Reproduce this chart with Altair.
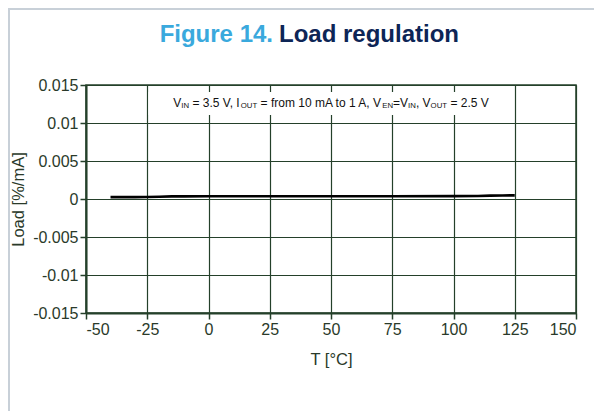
import altair as alt
import pandas as pd

# ---- data ----
temps = [-40, -30, -25, -20, -15, -10, 0, 25, 50, 75, 100, 110, 115, 120, 125]
load = [0.00025, 0.00025, 0.00026, 0.0003, 0.00034, 0.00035, 0.00036, 0.00037,
        0.00037, 0.00037, 0.00038, 0.0004, 0.00044, 0.00047, 0.00048]

x_ticks = [-50, -25, 0, 25, 50, 75, 100, 125, 150]
y_ticks = [-0.015, -0.01, -0.005, 0, 0.005, 0.01, 0.015]

title_a = "Figure 14."
title_b = "Load regulation"
x_title = "T [°C]"
y_title = "Load [%/mA]"

# annotation segments: (text, is_subscript)
note_segments = [
    ("V", False), ("IN", True), (" = 3.5 V, I", False), ("OUT", True),
    (" = from 10 mA to 1 A, V", False), ("EN", True), ("=V", False), ("IN", True),
    (", V", False), ("OUT", True), (" = 2.5 V", False),
]
note_x_center = 50
note_y = 0.01265
box_x = [-24.5, 124.5]
box_y = [0.01105, 0.01408]

# ---- styling ----
GRID = "#24402a"
LABEL = "#2a3a2a"
FONT = "Liberation Sans"
MAIN_FS = 12
SUB_FS = 7.8

# Arial advance widths (per 1000 em)
W = {" ": 278, "V": 667, "I": 278, "N": 722, "O": 778, "U": 722, "T": 611,
     "E": 667, "A": 667, "=": 584, ".": 278, ",": 278, "f": 278, "r": 333,
     "o": 556, "m": 833, "t": 278}
def width(s, fs):
    return sum(W.get(c, 556) for c in s) * fs / 1000.0

df = pd.DataFrame({"T": temps, "Load": load})

x_scale = alt.Scale(domain=[-50, 150], nice=False)
y_scale = alt.Scale(domain=[-0.015, 0.015], nice=False, zero=False)
x_axis = alt.Axis(values=x_ticks, title=x_title, labelExpr="toString(datum.value)",
                  grid=True, labelOverlap=False)
y_axis = alt.Axis(values=y_ticks, title=y_title, labelExpr="toString(datum.value)",
                  grid=True, labelOverlap=False)

line = alt.Chart(df).mark_line(color="black", strokeWidth=2.6).encode(
    x=alt.X("T:Q", scale=x_scale, axis=x_axis),
    y=alt.Y("Load:Q", scale=y_scale, axis=y_axis))

box = alt.Chart(pd.DataFrame({"x1": [box_x[0]], "x2": [box_x[1]],
                              "y1": [box_y[0]], "y2": [box_y[1]]})).mark_rect(
    color="white").encode(x=alt.X("x1:Q", scale=x_scale, axis=x_axis), x2="x2:Q",
                          y=alt.Y("y1:Q", scale=y_scale, axis=y_axis), y2="y2:Q")

total = sum(width(t, SUB_FS if s else MAIN_FS) for t, s in note_segments)
offset = -total / 2.0
note_layers = []
for txt, sub in note_segments:
    fs = SUB_FS if sub else MAIN_FS
    stripped = txt.lstrip(" ")
    lead = width(txt[: len(txt) - len(stripped)], fs)
    note_layers.append(
        alt.Chart(pd.DataFrame({"t": [stripped]})).mark_text(
            align="left", baseline="middle", font=FONT, fontSize=fs, color="#111111",
            dx=offset + lead, dy=3 if sub else 0
        ).encode(x=alt.X(datum=note_x_center, scale=x_scale, axis=x_axis),
                 y=alt.Y(datum=note_y, scale=y_scale, axis=y_axis), text="t:N")
    )
    offset += width(txt, fs)

frame = alt.Chart(pd.DataFrame({"a": [0]})).mark_rect(
    fill=None, stroke="#c8d0d8", strokeWidth=2).encode(
    x=alt.value(-77), x2=alt.value(700), y=alt.value(-76), y2=alt.value(600))

t1 = alt.Chart(pd.DataFrame({"t": [title_a]})).mark_text(
    align="right", baseline="alphabetic", font=FONT, fontSize=24, fontWeight="bold",
    color="#3aa9dd").encode(x=alt.value(187), y=alt.value(-43), text="t:N")
t2 = alt.Chart(pd.DataFrame({"t": [title_b]})).mark_text(
    align="left", baseline="alphabetic", font=FONT, fontSize=24, fontWeight="bold",
    color="#0d2556").encode(x=alt.value(193), y=alt.value(-43), text="t:N")

chart = alt.layer(line, frame, box, *note_layers, t1, t2).properties(
    width=490, height=228,
    autosize=alt.AutoSizeParams(type="none"),
    padding={"left": 78, "top": 77, "right": 18, "bottom": 98},
    background="white",
).configure_view(stroke=GRID, strokeWidth=1.5).configure_axis(
    domainColor=GRID, domainWidth=2, gridColor=GRID, gridWidth=1.2, gridOpacity=1,
    tickColor=GRID, tickWidth=1.5, tickSize=6,
    labelFont=FONT, labelFontSize=16, labelColor=LABEL, labelPadding=2,
    titleFont=FONT, titleFontSize=16.5, titleFontWeight="normal", titleColor=LABEL,
).configure_axisX(titlePadding=14).configure_axisY(titlePadding=6)

chart.save("out.html", embed_options={"renderer": "svg", "actions": False})
